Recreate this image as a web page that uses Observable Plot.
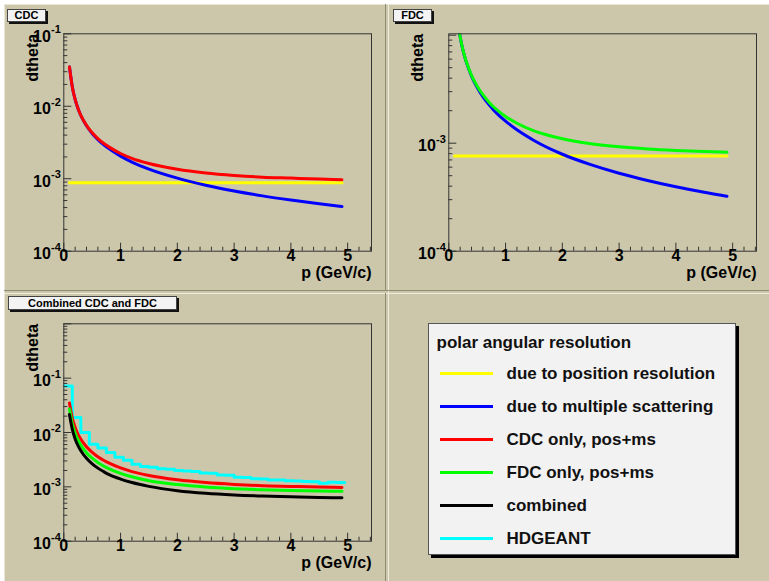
<!DOCTYPE html>
<html><head><meta charset="utf-8">
<script src="https://cdn.jsdelivr.net/npm/d3@7"></script>
<script src="https://cdn.jsdelivr.net/npm/@observablehq/plot@0.6"></script>
<style>
body{margin:0;background:#fff;}
#canvas{position:relative;width:769px;height:581px;overflow:hidden;background:#fff;font-family:"Liberation Sans",Arial,Helvetica,sans-serif;}
.pad{position:absolute;background:#ccc7aa;}
.ptitle{position:absolute;background:#f3f3f3;border:1px solid #444;box-shadow:2px 2px 0 #111;font-weight:bold;font-size:11px;text-align:center;color:#000;box-sizing:border-box;}
.plot{position:absolute;}
.line{position:absolute;}
</style></head><body><div id="canvas"></div>
<script>
// ---------- data ----------
const p = [0.1,0.15,0.2,0.25,0.3,0.4,0.5,0.6,0.7,0.8,1.0,1.2,1.5,2.0,2.5,3.0,3.5,4.0,4.5,4.9];
const cdcPosRes = [0.00088,0.00088,0.00088,0.00088,0.00088,0.00088,0.00088,0.00088,0.00088,0.00088,0.00088,0.00088,0.00088,0.00088,0.00088,0.00088,0.00088,0.00088,0.00088,0.00088];
const cdcMultScat = [0.0349,0.0185,0.0124,0.0093,0.00746,0.00538,0.00421,0.00347,0.00296,0.00258,0.00205,0.00170,0.00136,0.00102,0.000813,0.000677,0.000580,0.000508,0.000451,0.000414];
const cdcTotal = [0.0349,0.01851,0.01241,0.00934,0.00751,0.00545,0.0043,0.00358,0.00309,0.00273,0.00223,0.00191,0.00162,0.00135,0.00120,0.00111,0.00105,0.00102,0.00099,0.00097];
const fdcPosRes = [0.00076,0.00076,0.00076,0.00076,0.00076,0.00076,0.00076,0.00076,0.00076,0.00076,0.00076,0.00076,0.00076,0.00076,0.00076,0.00076,0.00076,0.00076,0.00076,0.00076];
const fdcMultScat = [0.0271,0.0144,0.00963,0.00724,0.00581,0.00418,0.00328,0.0027,0.0023,0.002,0.0016,0.00133,0.00106,0.00079,0.000633,0.000527,0.000452,0.000395,0.000351,0.000323];
const fdcTotal = [0.0271,0.0144,0.00966,0.00728,0.00586,0.00425,0.00337,0.00281,0.00242,0.00214,0.00177,0.00153,0.0013,0.0011,0.00099,0.000925,0.000884,0.000857,0.000837,0.000826];
const combined = [0.0214,0.0114,0.00762,0.00574,0.00462,0.00335,0.00265,0.00221,0.00191,0.00168,0.00139,0.0012,0.00102,0.00085,0.00076,0.00071,0.00068,0.00066,0.00064,0.00063];
const hdgeantBinLow = [0,0.15,0.3,0.45,0.6,0.75,0.9,1.05,1.2,1.35,1.5,1.65,1.8,1.95,2.1,2.25,2.4,2.55,2.7,2.85,3.0,3.15,3.3,3.45,3.6,3.75,3.9,4.05,4.2,4.35,4.5,4.65,4.8];
const hdgeantBinHigh = 4.95;
const hdgeant = [0.072,0.0188,0.0100,0.0061,0.0052,0.0043,0.0035,0.0031,0.0026,0.00238,0.0023,0.00215,0.0021,0.0020,0.00196,0.00192,0.0018,0.00178,0.00166,0.00164,0.0015,0.00148,0.00141,0.00139,0.00134,0.00133,0.0013,0.00128,0.00125,0.00124,0.00116,0.00121,0.0012];
const xTickLabels = [0,1,2,3,4,5];
const panelTitles = ["CDC","FDC","Combined CDC and FDC"];
const xTitle = "p (GeV/c)";
const yTitle = "dtheta";
const legendTitle = "polar angular resolution";
const legendLabels = ["due to position resolution","due to multiple scattering","CDC only, pos+ms","FDC only, pos+ms","combined","HDGEANT"];

// ---------- styles ----------
const COL = {pos:"#ffff00", ms:"#0000ff", cdc:"#ff0000", fdc:"#00ff00", comb:"#000000", geant:"#00ffff"};
const legendColors = [COL.pos, COL.ms, COL.cdc, COL.fdc, COL.comb, COL.geant];
const FONT = '"Liberation Sans", Arial, Helvetica, sans-serif';
const canvas = document.getElementById("canvas");

function div(cls, css, text) {
  const d = document.createElement("div");
  d.className = cls;
  Object.assign(d.style, css);
  if (text) d.textContent = text;
  canvas.appendChild(d);
  return d;
}

// canvas / pads
div("pad", {left:"4px", top:"4px", width:"765px", height:"577px", background:"#ccc7aa"});
div("line", {left:"4px", top:"4px", width:"765px", height:"1px", background:"#e9e6d8"});
div("line", {left:"4px", top:"4px", width:"1px", height:"577px", background:"#e9e6d8"});
// pad separators (bevels)
div("line", {left:"385px", top:"4px", width:"1px", height:"287px", background:"#8f8b75"});
div("line", {left:"388px", top:"4px", width:"1px", height:"577px", background:"#efece0"});
div("line", {left:"4px", top:"290px", width:"765px", height:"1px", background:"#8f8b75"});
div("line", {left:"4px", top:"293px", width:"765px", height:"1px", background:"#efece0"});
div("line", {left:"385px", top:"293px", width:"1px", height:"288px", background:"#8f8b75"});

const data = p.map((x, i) => ({x, cdcPos: cdcPosRes[i], cdcMs: cdcMultScat[i], cdcTot: cdcTotal[i], fdcPos: fdcPosRes[i], fdcMs: fdcMultScat[i], fdcTot: fdcTotal[i], comb: combined[i]}));
const geantData = hdgeantBinLow.map((x, i) => ({x, y: hdgeant[i]}));
geantData.push({x: hdgeantBinHigh, y: hdgeant[hdgeant.length - 1]});

function logTicks(lo, hi) {
  const major = [], minor = [];
  for (let e = Math.floor(Math.log10(lo)); e <= Math.ceil(Math.log10(hi)); e++) {
    const b = Math.pow(10, e);
    if (b >= lo * 0.999 && b <= hi * 1.001) major.push(b);
    for (let k = 2; k <= 9; k++) { const v = k * b; if (v >= lo && v <= hi) minor.push(v); }
  }
  return {major, minor};
}

function panel({left, top, width, height, ml, mr, mt, mb, yDomain, yLabels, lines}) {
  const fw = width - ml - mr, fh = height - mt - mb;
  const xDomain = [0, 5.42];
  const xMajor = xTickLabels;
  const xMinor = d3.range(0, 28).map(i => i * 0.2).filter(v => v <= 5.42 && Math.abs(v - Math.round(v)) > 1e-6);
  const yt = logTicks(yDomain[0], yDomain[1]);
  const lab = yLabels.map(v => ({v, e: String(Math.round(Math.log10(v)))}));
  const bold = {fontWeight: "bold", fill: "#000"};
  const svg = Plot.plot({
    width, height, marginLeft: ml, marginRight: mr, marginTop: mt, marginBottom: mb,
    style: `background:transparent;overflow:visible;font-family:${FONT};`,
    x: {domain: xDomain, axis: null},
    y: {type: "log", domain: yDomain, axis: null},
    marks: [
      ...lines.map(l => Plot.line(l.data, {x: "x", y: l.y, stroke: l.color, strokeWidth: 3, curve: l.curve || "monotone-x", clip: true})),
      Plot.frame({stroke: "#333", strokeWidth: 1}),
      Plot.tickX(xMinor, {x: d => d, insetTop: fh - 4, stroke: "#333"}),
      Plot.tickX(xMajor, {x: d => d, insetTop: fh - 8, stroke: "#333"}),
      Plot.tickY(yt.minor, {y: d => d, insetRight: fw - 4, stroke: "#333"}),
      Plot.tickY(yt.major, {y: d => d, insetRight: fw - 8, stroke: "#333"}),
      Plot.text(xTickLabels, {x: d => d, frameAnchor: "bottom", dy: 10, text: d => String(d), fontSize: 16, ...bold}),
      Plot.text(lab, {y: "v", frameAnchor: "left", text: () => "10", textAnchor: "end", dx: -13, dy: 3, fontSize: 16, ...bold}),
      Plot.text(lab, {y: "v", frameAnchor: "left", text: "e", textAnchor: "end", dx: -3, dy: -4, fontSize: 11, ...bold}),
      Plot.text([yTitle], {frameAnchor: "top-left", text: d => d, rotate: -90, textAnchor: "end", dx: -37, fontSize: 16, ...bold}),
      Plot.text([xTitle], {frameAnchor: "bottom-right", text: d => d, textAnchor: "end", dy: 27, fontSize: 16, ...bold})
    ]
  });
  const w = document.createElement("div");
  w.className = "plot";
  Object.assign(w.style, {left: left + "px", top: top + "px", width: width + "px", height: height + "px"});
  w.appendChild(svg);
  canvas.appendChild(w);
}

// CDC
panel({left: 5, top: 5, width: 380, height: 286, ml: 58.3, mr: 14, mt: 28.3, mb: 40.3,
  yDomain: [1e-4, 0.1], yLabels: [1e-4, 1e-3, 1e-2, 1e-1],
  lines: [{data, y: "cdcPos", color: COL.pos}, {data, y: "cdcMs", color: COL.ms}, {data, y: "cdcTot", color: COL.cdc}]});
// FDC
panel({left: 386, top: 5, width: 383, height: 286, ml: 62.3, mr: 13, mt: 28.3, mb: 40.3,
  yDomain: [1e-4, 0.0103], yLabels: [1e-4, 1e-3],
  lines: [{data, y: "fdcPos", color: COL.pos}, {data, y: "fdcMs", color: COL.ms}, {data, y: "fdcTot", color: COL.fdc}]});
// Combined
panel({left: 5, top: 293, width: 380, height: 288, ml: 58.3, mr: 14, mt: 30.3, mb: 40.3,
  yDomain: [1e-4, 1], yLabels: [1e-4, 1e-3, 1e-2, 1e-1],
  lines: [{data: geantData, y: "y", color: COL.geant, curve: "step-after"}, {data, y: "cdcTot", color: COL.cdc}, {data, y: "fdcTot", color: COL.fdc}, {data, y: "comb", color: COL.comb}]});

// panel titles
div("ptitle", {left: "7px", top: "9px", width: "39px", height: "13px", lineHeight: "11px"}, panelTitles[0]);
div("ptitle", {left: "393px", top: "9px", width: "39px", height: "13px", lineHeight: "11px"}, panelTitles[1]);
div("ptitle", {left: "8px", top: "296px", width: "169px", height: "14px", lineHeight: "12px"}, panelTitles[2]);

// legend
const LW = 308, LH = 232;
const lbox = div("ptitle", {left: "428px", top: "323px", width: LW + "px", height: LH + "px", background: "#f2f2f2", boxShadow: "3px 3px 0 #000", border: "1px solid #555"});
const legendRows = legendLabels.map((label, i) => ({label, color: legendColors[i]}));
const lsvg = Plot.plot({
  width: LW - 2, height: LH - 2, margin: 0,
  style: `background:transparent;overflow:visible;font-family:${FONT};`,
  x: {type: "identity", axis: null},
  y: {type: "point", domain: legendLabels, range: [48.5, 214], padding: 0, axis: null},
  color: {type: "identity"},
  marks: [
    Plot.text([legendTitle], {frameAnchor: "top-left", text: d => d, dx: 7, dy: 11, textAnchor: "start", fontSize: 17, fontWeight: "bold", fill: "#111"}),
    Plot.ruleY(legendRows, {y: "label", x1: 11, x2: 64, stroke: "color", strokeWidth: 3}),
    Plot.text(legendRows, {y: "label", x: 77, text: "label", textAnchor: "start", fontSize: 17, fontWeight: "bold", fill: "#111"})
  ]
});
lsvg.style.position = "absolute"; lsvg.style.left = "0"; lsvg.style.top = "0";
lbox.appendChild(lsvg);
</script></body></html>
